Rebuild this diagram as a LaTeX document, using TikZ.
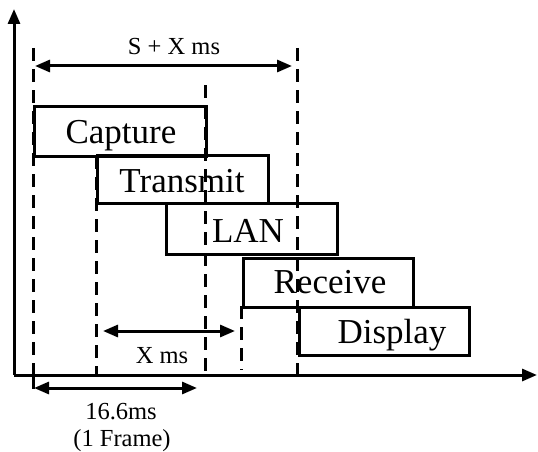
\documentclass[tikz,border=0pt]{standalone}
\usepackage{fontspec}
\setmainfont{Liberation Serif}
\usetikzlibrary{arrows.meta,calc}
\begin{document}
\begin{tikzpicture}[x=1pt,y=-1pt,
  stagebox/.style={draw,line width=3pt,inner sep=0pt,anchor=north west},
  stagetext/.style={anchor=base,inner sep=0pt,font=\fontsize{35}{40}\selectfont},
  smalltext/.style={anchor=base,inner sep=0pt,font=\fontsize{24.5}{28}\selectfont},
  dashline/.style={line width=3pt,dash pattern=on 13pt off 8pt},
  axisline/.style={line width=3pt,-{Triangle[length=15pt,width=12pt]}},
  dimline/.style={line width=3pt,{Triangle[length=15pt,width=12pt]}-{Triangle[length=15pt,width=12pt]}}]
\useasboundingbox (0,0) rectangle (538,452);
% axes
\coordinate (o) at (14,375);
\coordinate (ytip) at (14,9);
\coordinate (xtip) at (537,375);
\draw[axisline] (o) -- (ytip);
\draw[axisline] (o) -- (xtip);
% dashed guide lines
\coordinate (d1t) at (33,48);  \coordinate (d1b) at (33,376);
\coordinate (d2t) at (96,156); \coordinate (d2b) at (96,374);
\coordinate (d3t) at (205,85); \coordinate (d3b) at (205,374);
\coordinate (d4t) at (241,306); \coordinate (d4b) at (241,370);
\coordinate (d5t) at (297,48); \coordinate (d5b) at (297,381);
\draw[dashline] (d1t) -- (d1b);
\draw[dashline] (d2t) -- (d2b);
\draw[dashline] (d3t) -- (d3b);
\draw[dashline] (d4t) -- (d4b);
\draw[dashline] (d5t) -- (d5b);
\coordinate (d1e) at (33,389);
\draw[line width=3pt] (d1b) -- (d1e);
% boxes
\node[stagebox,minimum width=172pt,minimum height=50pt] (cap) at (33,105) {};
\node[stagebox,minimum width=171pt,minimum height=48pt] (tra) at (96,154) {};
\node[stagebox,minimum width=171pt,minimum height=51pt] (lan) at (165,202) {};
\node[stagebox,minimum width=170pt,minimum height=49pt] (rec) at (242,257) {};
\node[stagebox,minimum width=170pt,minimum height=48pt] (dis) at (298,306) {};
\node[stagetext] (capt) at (121,143) {Capture};
\node[stagetext] (trat) at (182,192) {Transmit};
\node[stagetext] (lant) at (248,242) {LAN};
\node[stagetext] (rect) at (330,293) {Receive};
\node[stagetext] (dist) at (392,343) {Display};
% dimension arrows
\coordinate (a1l) at (35,66);  \coordinate (a1r) at (292,66);
\coordinate (a2l) at (103,331); \coordinate (a2r) at (235,331);
\coordinate (a3l) at (34,388); \coordinate (a3r) at (197,388);
\draw[dimline] (a1l) -- (a1r);
\draw[dimline] (a2l) -- (a2r);
\draw[dimline] (a3l) -- (a3r);
\node[smalltext] (sx) at (174,55) {S + X ms};
\node[smalltext] (xm) at (162,363) {X ms};
\node[smalltext] (fr) at (121,419) {16.6ms};
\node[smalltext] (fr2) at (122,446) {(1 Frame)};
\end{tikzpicture}
\end{document}
